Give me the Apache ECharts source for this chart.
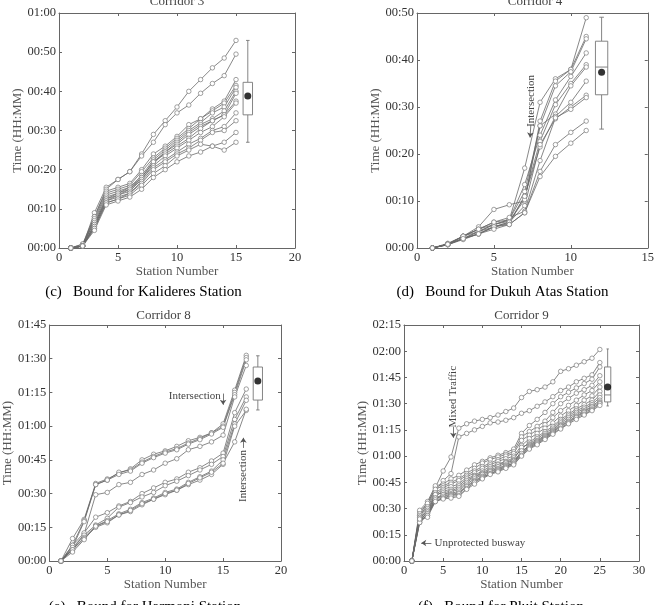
<!DOCTYPE html>
<html><head><meta charset="utf-8">
<script src="https://cdn.jsdelivr.net/npm/echarts@6/dist/echarts.min.js"></script>
<style>html,body{margin:0;padding:0;background:#fff}#chart{width:657px;height:605px}</style>
</head><body><div id="chart"></div>
<script>
// ---------- DATA (minutes since first station) ----------
const stationsC = [1,2,3,4,5,6,7,8,9,10,11,12,13,14,15];
const corridor3 = [
  [0,0.5,9,15.5,17.5,19.5,24,29,32.5,36,40,43,46,48.5,53],
  [0,0.5,8,15,17.5,19.5,23.5,27,31.5,34.5,36.5,39.5,42,44,49.5],
  [0,1,8,14.5,15.5,16.5,20,24,26,28.5,31.5,33,35.5,37.5,43],
  [0,0.5,7.5,14,15,16,19.5,23,25.5,28,30.5,33,35,37,41.5],
  [0,0.5,7,13.5,14.5,15.5,18.5,22.5,25,27.5,30,32,34.5,36,41],
  [0,1,6.5,13,14,15.5,18,22,24.5,27,29.5,31.5,33,35,40],
  [0,0.5,6,12.5,13.5,15,17.5,21.5,24.5,26.5,29,31,32.5,34,39.5],
  [0,0.5,6,12.5,14,15,18,22,24,26,28,30.5,32.5,34,37.5],
  [0,0.5,5.5,12,13.5,14.5,17.5,21,23.5,25.5,27.5,29.5,31,33.5,37],
  [0,0.5,5.5,12,13,14,17,20.5,22.5,24.5,26.5,28,30,31,34.5],
  [0,0.5,5,11.5,12.5,14,16.5,20,22,24,25.5,27.5,29.5,30,32.5],
  [0,0.5,5,11.5,12.5,13.5,16,19,21,23.5,25,26.5,26,27,29.5],
  [0,0.5,4.5,11,12,13,15,18,20,22,23.5,24.5,26,25,27]
];
const stationsD = [1,2,3,4,5,6,7,8,9,10,11];
const corridor4 = [
  [0,0.8,2.5,4,5,6,17,31,36,38,49],
  [0,0.8,2.5,4.5,8.2,9.2,10,27,35.5,38,45],
  [0,0.8,2,3.5,5,6,12,26,34.5,37.5,44.5],
  [0,1,2.5,4,5.5,6,13.5,24,31.5,36.5,41.5],
  [0,0.8,2,3,4.5,5.5,11,22.7,30.5,35,39],
  [0,0.8,2.5,3.5,5,5.7,10.3,26,28.5,34.5,38.5],
  [0,0.7,2,3,4.5,5.2,11,21.5,28,31,35.5],
  [0,0.7,2,3.5,4.5,5.5,9,22,27.5,30,32.5],
  [0,0.8,2.5,4,5.5,6.5,7.8,18.6,27.7,29.5,32],
  [0,0.7,1.8,3,4.5,5,7.5,16.3,22,24.6,27],
  [0,0.8,2,3,4,5,7.5,15.2,19.5,22.3,25]
];
const stationsE = [1,2,3,4,5,6,7,8,9,10,11,12,13,14,15,16,17];
const corridor8 = [
  [0,10,18.5,34.5,36.5,39,41,45,47.5,49,51,53.5,55,57,61,76,91.5],
  [0,7,18,34,36,39.5,40.5,44,46.5,48.5,50,52.5,54.5,57,60,75,90.5],
  [0,6,17.5,34,36,38.5,40,43.5,46,48,49.5,52,54,56.5,59.5,74,89.5],
  [0,5,12,29.5,30.5,34,35,38.5,40.5,43.5,45.5,49.5,51,53,56,73,87],
  [0,7,12.5,19.5,21.5,24.5,26.5,30,32.5,35,36.5,39.5,41.5,44.5,48,66,76.5],
  [0,6,11.5,16,19,24,26,28.5,30.5,33.5,35.5,38,40.5,43,46.5,63,73],
  [0,5,10.5,15.5,18,21,23,26,28,30.5,32,35,37.5,40,45,61,71.5],
  [0,5,10,15,17,20.5,22,25,27.5,29.5,31.5,34,36,38.5,43,60,67],
  [0,4,9.5,15.5,17.5,20.5,22.5,25.5,27.5,30,31.5,34.5,37,39.5,43.5,53,67.5]
];
const stationsF = [1,2,3,4,5,6,7,8,9,10,11,12,13,14,15,16,17,18,19,20,21,22,23,24,25];
const corridor9 = [
  [0,28,33,42,51.5,59.5,76,78.5,80,81,82,83.5,85.5,87.5,93.5,97,98,99.5,102.5,108.5,110,112,114,116,121],
  [0,26,32,40,46,50,71,73,75,77,79,79.5,80.5,82,84.5,86,88.5,91,94,97.5,99.5,102.5,104.5,106.5,113.5],
  [0,29,34,43,44,47,49,52,55,57,59,60.5,62,64,73,77.5,81,85,90,94,96.5,99,101.5,104,111],
  [0,27,33,41,43,45,47,50,53,56,58,59.5,61,62.5,71,74,77,80,85,90,93,96,98,100.5,106],
  [0,26,31,39,42,44,46,49,51.5,54,56,58,60,61.5,69,72,75,78,82,86,89,92,95,97.5,102.5],
  [0,25,30,38,41,42.5,44,48,50.5,53,55,57,58.5,60,66,70,73,76,79,83,86,89,92,94.5,99.5],
  [0,24,29,37,40,41,43,47,49,51.5,54,55.5,57,59,64,68,71,74,77,81,84,87,89.5,92,97],
  [0,25,28,38,39,40,42,46,48.5,50.5,53,55,56.5,58,65,67,70,73,76,80,83,86,88,90.5,95],
  [0,23,28,36,38,39.5,41,45,48,50,52,54,56,57.5,62,66.5,69,72,75,79,82,85,87,89.5,93.5],
  [0,24,27,35,38,38.5,40,44,47,49.5,51.5,53,55,57,61,66,68.5,71.5,74.5,78,81,84,86,88.5,92],
  [0,22,27,36,37,38,39,43,46,48.5,51,52.5,54.5,56,63,65.5,68,71,74,77.5,80,83,85.5,88,91],
  [0,23,26,34,36,37.5,38.5,42.5,45.5,48,50,52,54,56,61.5,65,67.5,70.5,73.5,77,79.5,82.5,85,87,90.5],
  [0,22,26,35,36,37,37.5,41.5,45,47.5,50,51.5,53.5,55.5,60.5,64.5,67,70,73,76,79,82,84,86.5,90],
  [0,24,25,34,35.5,36,37,41,44,47,49.5,51,53,55,60,64,66.5,69.5,72.5,75.5,78.5,81,83.5,86,89]
];
// box summaries: [x, min, q1, q3, max]
const boxC = [16, 27, 34, 42.3, 53];
const boxD = [12, 25.3, 32.6, 44, 49.1];
const boxE = [18, 67.2, 71.6, 86.3, 91.3];
const boxF = [26, 88.7, 91, 111, 121.3];
const medians = [null, 38.5, null, 95];
const means = [[16, 38.8], [12, 37.4], [18, 80.1], [26, 99.5]];
const titles = ['Corridor 3', 'Corridor 4', 'Corridor 8', 'Corridor 9'];
const captions = ['(c)   Bound for Kalideres Station', '(d)   Bound for Dukuh Atas Station',
                  '(e)   Bound for Harmoni Station', '(f)   Bound for Pluit Station'];
const xMax = [20, 15, 20, 30];
const yMax = [60, 50, 105, 135];
const yStep = [10, 10, 15, 15];
// annotations (data coords)
const annoTexts = [
  {g:1, text:'Intersection', at:[7.45, 31.3], rot:true, align:'center'},
  {g:2, text:'Intersection', at:[14.8, 73.3], rot:false, align:'right'},
  {g:2, text:'Intersection', at:[16.75, 37.8], rot:true, align:'center'},
  {g:3, text:'Mixed Traffic', at:[6.25, 94], rot:true, align:'center'},
  {g:3, text:'Unprotected busway', at:[3.9, 10.3], rot:false, align:'left'}
];
const annoArrows = [
  {g:1, from:[7.4, 26.2], to:[7.35, 23.5]},
  {g:2, from:[15.0, 74.5], to:[15.0, 69.5]},
  {g:2, from:[16.75, 50.3], to:[16.75, 54.8]},
  {g:3, from:[6.3, 76.8], to:[6.3, 70.5]},
  {g:3, from:[3.5, 10.3], to:[2.2, 10.3]}
];

// ---------- LAYOUT ----------
const FONT = 'Liberation Serif';
const grids = [
  {left:59, top:13, width:236, height:235},
  {left:417, top:13, width:236, height:235},
  {left:46, top:325, width:235, height:236},
  {left:404, top:325, width:235, height:236}
];
const xNameGap = [13.5, 14.5, 15.5, 15.5];
const yNameGap = [30.5, 31.5, 31.5, 32.5];
const titleY = [2, 2, 316, 316];
const captionPos = [[143.5, 292], [502.5, 292], [145, 607], [501, 607]];

const allStations = [stationsC, stationsD, stationsE, stationsF];
const allLines = [corridor3, corridor4, corridor8, corridor9];
const boxes = [boxC, boxD, boxE, boxF];

const pad = n => (n < 10 ? '0' : '') + n;
const hhmm = v => pad(Math.floor(v / 60)) + ':' + pad(Math.round(v % 60));
const AX = '#666', LBL = '#333', LINE = '#6a6a6a', MARK = '#7a7a7a';

const xAxes = [], yAxes = [], series = [];
grids.forEach((g, i) => {
  const base = {type:'value', gridIndex:i, min:0, max:xMax[i], interval:5,
    axisLine:{show:true, onZero:false, lineStyle:{color:AX, width:1}},
    axisTick:{show:true, inside:true, length:3, lineStyle:{color:AX}},
    splitLine:{show:false}};
  xAxes.push(Object.assign({}, base, {position:'bottom',
    axisLabel:{show:true, margin:3, color:LBL, fontFamily:FONT, fontSize:12.5},
    name:'Station Number', nameLocation:'middle', nameGap:xNameGap[i],
    nameTextStyle:{color:'#555', fontFamily:FONT, fontSize:13}}));
  xAxes.push(Object.assign({}, base, {position:'top', axisLabel:{show:false}}));
  const ybase = {type:'value', gridIndex:i, min:0, max:yMax[i], interval:yStep[i],
    axisLine:{show:true, onZero:false, lineStyle:{color:AX, width:1}},
    axisTick:{show:true, inside:true, length:3, lineStyle:{color:AX}},
    splitLine:{show:false}};
  yAxes.push(Object.assign({}, ybase, {position:'left',
    axisLabel:{show:true, margin:3, color:LBL, fontFamily:FONT, fontSize:12.5, formatter:hhmm},
    name:'Time (HH:MM)', nameLocation:'middle', nameGap:yNameGap[i],
    nameTextStyle:{color:'#555', fontFamily:FONT, fontSize:13}}));
  yAxes.push(Object.assign({}, ybase, {position:'right', axisLabel:{show:false}}));

  allLines[i].forEach(ys => {
    series.push({type:'line', xAxisIndex:2*i, yAxisIndex:2*i,
      data: allStations[i].map((s, k) => [s, ys[k]]),
      symbol:'circle', symbolSize:4.5, showSymbol:true,
      lineStyle:{color:LINE, width:0.8},
      itemStyle:{color:'#fff', borderColor:MARK, borderWidth:0.7},
      emphasis:{disabled:true}, animation:false, z:2});
  });

  const cap = 0.3, bw = 0.8, med = medians[i];
  series.push({type:'custom', xAxisIndex:2*i, yAxisIndex:2*i, data:[boxes[i]], animation:false, z:3,
    renderItem: (params, api) => {
      const x = api.value(0);
      const pLo = api.coord([x, api.value(1)]), pQ1 = api.coord([x, api.value(2)]);
      const pQ3 = api.coord([x, api.value(3)]), pHi = api.coord([x, api.value(4)]);
      const w = api.size([bw, 0])[0], c = api.size([cap, 0])[0];
      const st = {stroke:'#777', lineWidth:0.9, fill:null};
      const ch = [
        {type:'line', shape:{x1:pLo[0], y1:pLo[1], x2:pQ1[0], y2:pQ1[1]}, style:st},
        {type:'line', shape:{x1:pQ3[0], y1:pQ3[1], x2:pHi[0], y2:pHi[1]}, style:st},
        {type:'line', shape:{x1:pLo[0]-c/2, y1:pLo[1], x2:pLo[0]+c/2, y2:pLo[1]}, style:st},
        {type:'line', shape:{x1:pHi[0]-c/2, y1:pHi[1], x2:pHi[0]+c/2, y2:pHi[1]}, style:st},
        {type:'rect', shape:{x:pQ3[0]-w/2, y:pQ3[1], width:w, height:pQ1[1]-pQ3[1]},
          style:{stroke:'#777', lineWidth:0.9, fill:'#fff'}}
      ];
      if (med != null) {
        const pm = api.coord([x, med]);
        ch.push({type:'line', shape:{x1:pm[0]-w/2, y1:pm[1], x2:pm[0]+w/2, y2:pm[1]}, style:st});
      }
      return {type:'group', children:ch};
    }});

  const arrows = annoArrows.filter(a => a.g === i).map(a => [
    {coord:a.from, symbol:'none'}, {coord:a.to, symbol:'arrow', symbolSize:5}]);
  series.push({type:'scatter', xAxisIndex:2*i, yAxisIndex:2*i, data:[means[i]],
    symbol:'circle', symbolSize:7, itemStyle:{color:'#000'}, z:5, animation:false,
    emphasis:{disabled:true},
    markLine: arrows.length ? {silent:true, animation:false, symbol:['none','arrow'], symbolSize:5,
      label:{show:false}, lineStyle:{color:'#555', width:0.8, type:'solid'}, data:arrows} : undefined});
});

const chart = echarts.init(document.getElementById('chart'), null, {renderer:'canvas'});
chart.setOption({
  backgroundColor:'#fff', animation:false,
  grid: grids.map(g => Object.assign({containLabel:false}, g)),
  xAxis: xAxes, yAxis: yAxes, series: series
});

const graphics = [];
grids.forEach((g, i) => {
  graphics.push({type:'text', x:g.left + g.width/2, y:titleY[i],
    style:{text:titles[i], fill:'#444', font:'13px "' + FONT + '"', textAlign:'center', textVerticalAlign:'middle'}});
  graphics.push({type:'text', x:captionPos[i][0], y:captionPos[i][1],
    style:{text:captions[i], fill:'#000', font:'15px "' + FONT + '"', textAlign:'center', textVerticalAlign:'middle'}});
});
annoTexts.forEach(a => {
  const p = chart.convertToPixel({xAxisIndex:2*a.g, yAxisIndex:2*a.g}, a.at);
  graphics.push({type:'text', x:p[0], y:p[1], rotation: a.rot ? Math.PI/2 : 0,
    style:{text:a.text, fill:'#444', font:'11px "' + FONT + '"', textAlign:a.align, textVerticalAlign:'middle'}});
});
chart.setOption({graphic: graphics});
</script>
</body></html>
